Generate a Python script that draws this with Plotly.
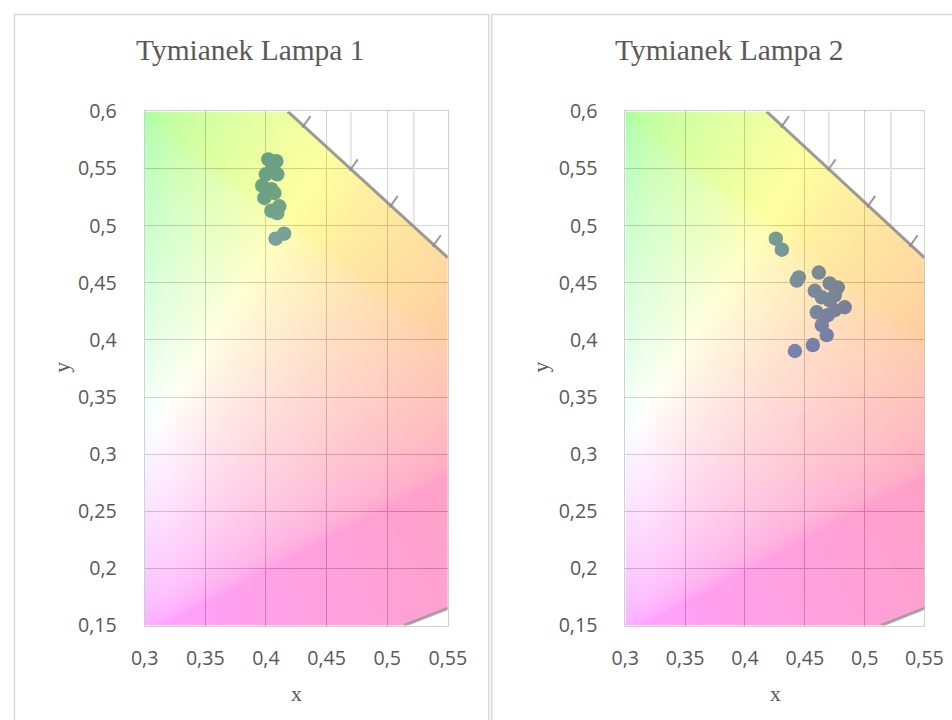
import base64
import struct
import zlib

import numpy as np
import plotly.graph_objects as go

# ---------------- data ----------------
lamp1_x = [0.402, 0.4086, 0.406, 0.4094, 0.400, 0.397, 0.4045, 0.407, 0.3987,
           0.411, 0.4094, 0.4045, 0.415, 0.408]
lamp1_y = [0.558, 0.5565, 0.552, 0.545, 0.545, 0.535, 0.532, 0.5286, 0.5243,
           0.517, 0.511, 0.513, 0.493, 0.4886]

lamp2_x = [0.4258, 0.4308, 0.445, 0.4433, 0.4617, 0.4583, 0.4708, 0.4775, 0.4642,
           0.475, 0.4833, 0.460, 0.4692, 0.4642, 0.4683, 0.4567, 0.4417, 0.4708, 0.475]
lamp2_y = [0.4886, 0.479, 0.4547, 0.452, 0.459, 0.443, 0.4494, 0.446, 0.4373,
           0.439, 0.4286, 0.4242, 0.4216, 0.4129, 0.4042, 0.3955, 0.3903, 0.4346, 0.426]

titles = ["Tymianek Lampa 1", "Tymianek Lampa 2"]
x_tickvals = [0.3, 0.35, 0.4, 0.45, 0.5, 0.55]
x_ticktext = ["0,3", "0,35", "0,4", "0,45", "0,5", "0,55"]
y_tickvals = [0.15, 0.2, 0.25, 0.3, 0.35, 0.4, 0.45, 0.5, 0.55, 0.6]
y_ticktext = ["0,15", "0,2", "0,25", "0,3", "0,35", "0,4", "0,45", "0,5", "0,55", "0,6"]

X_RANGE = [0.3, 0.55]
Y_RANGE = [0.15, 0.6]

# background chromaticity picture geometry
LOCUS_X = [0.418, 0.55]
LOCUS_Y = [0.6, 0.472]
PURPLE_X = [0.514, 0.55]
PURPLE_Y = [0.15, 0.165]
WL_TICK_X = [0.431, 0.470, 0.503, 0.5385]
PICTURE_GRID_X = [0.47, 0.522]


def locus_y(x):
    return LOCUS_Y[0] + (x - LOCUS_X[0]) * (LOCUS_Y[1] - LOCUS_Y[0]) / (LOCUS_X[1] - LOCUS_X[0])


def purple_y(x):
    return PURPLE_Y[0] + (x - PURPLE_X[0]) * (PURPLE_Y[1] - PURPLE_Y[0]) / (PURPLE_X[1] - PURPLE_X[0])


# ---------------- chromaticity background as PNG ----------------
def make_png(arr):
    h, w, _ = arr.shape
    raw = b"".join(b"\x00" + arr[i].tobytes() for i in range(h))

    def chunk(tag, data):
        c = struct.pack(">I", len(data)) + tag + data
        return c + struct.pack(">I", zlib.crc32(tag + data) & 0xFFFFFFFF)

    png = b"\x89PNG\r\n\x1a\n"
    png += chunk(b"IHDR", struct.pack(">IIBBBBB", w, h, 8, 2, 0, 0, 0))
    png += chunk(b"IDAT", zlib.compress(raw, 9))
    png += chunk(b"IEND", b"")
    return "data:image/png;base64," + base64.b64encode(png).decode()


NX, NY = 300, 540
xs = X_RANGE[0] + (np.arange(NX) + 0.5) * (X_RANGE[1] - X_RANGE[0]) / NX
ys = Y_RANGE[1] - (np.arange(NY) + 0.5) * (Y_RANGE[1] - Y_RANGE[0]) / NY
XX, YY = np.meshgrid(xs, ys)
Xc = XX / YY
Yc = np.ones_like(XX)
Zc = (1 - XX - YY) / YY
R = 3.2406 * Xc - 1.5372 * Yc - 0.4986 * Zc
G = -0.9689 * Xc + 1.8758 * Yc + 0.0415 * Zc
B = 0.0557 * Xc - 0.2040 * Yc + 1.0570 * Zc
rgb = np.clip(np.stack([R, G, B], axis=-1), 0, None)
rgb = rgb / rgb.max(axis=-1, keepdims=True)
rgb = np.where(rgb <= 0.0031308, 12.92 * rgb, 1.055 * np.power(rgb, 1 / 2.4) - 0.055)
outside = (YY > locus_y(XX)) | (YY < purple_y(XX))
rgb[outside] = 1.0
img = (np.clip(rgb, 0, 1) * 255).astype(np.uint8)
bg_src = make_png(img)

# ---------------- page geometry ----------------
W, H = 952, 720
# the photographed page is shown slightly reduced with a small border; map
# target picture positions to page positions
SHOT_SCALE, SHOT_OFF = 0.968, 12.0


def P(v):
    return (v - SHOT_OFF) / SHOT_SCALE


def F(s):
    return s / SHOT_SCALE


plot_left = [143, 625]
plot_right = [447, 925]
plot_top, plot_bottom = 110, 627
chart_centers = [249, 729]
xlabel_centers = [295, 776]
ylabel_x = [60, 540]

fig = go.Figure()
marker = dict(color="#2c6bd0", size=F(14), line=dict(width=0))
fig.add_trace(go.Scatter(x=lamp1_x, y=lamp1_y, mode="markers", marker=marker,
                         xaxis="x", yaxis="y", showlegend=False))
fig.add_trace(go.Scatter(x=lamp2_x, y=lamp2_y, mode="markers", marker=marker,
                         xaxis="x2", yaxis="y2", showlegend=False))

tickfont = dict(family="Open Sans", size=F(19), color="#595959")
axis_common = dict(showgrid=True, gridcolor="#bdbdbd", gridwidth=1, zeroline=False,
                   showline=True, mirror=True, linecolor="#d0d0d0", linewidth=1,
                   ticks="outside", tickcolor="rgba(0,0,0,0)", tickfont=tickfont,
                   fixedrange=True)

layout = dict(width=W, height=H, margin=dict(l=0, r=0, t=0, b=0), autosize=False,
              paper_bgcolor="white", plot_bgcolor="white", showlegend=False)
for i in range(2):
    sx = "" if i == 0 else str(i + 1)
    layout["xaxis" + sx] = dict(axis_common,
                                domain=[P(plot_left[i]) / W, P(plot_right[i]) / W],
                                range=X_RANGE, tickvals=x_tickvals, ticktext=x_ticktext,
                                anchor="y" + sx, ticklen=15)
    layout["yaxis" + sx] = dict(axis_common,
                                domain=[1 - P(plot_bottom) / H, 1 - P(plot_top) / H],
                                range=Y_RANGE, tickvals=y_tickvals, ticktext=y_ticktext,
                                anchor="x" + sx, ticklen=23, scaleanchor=False)
fig.update_layout(**layout)

images = []
shapes = []
annotations = []
grey = "#8a8a8a"
for i in range(2):
    sx = "" if i == 0 else str(i + 1)
    xr, yr = "x" + sx, "y" + sx
    images.append(dict(source=bg_src, xref=xr, yref=yr, x=X_RANGE[0], y=Y_RANGE[1],
                       sizex=X_RANGE[1] - X_RANGE[0], sizey=Y_RANGE[1] - Y_RANGE[0],
                       sizing="stretch", xanchor="left", yanchor="top",
                       opacity=0.37, layer="above"))
    for gx in PICTURE_GRID_X:
        shapes.append(dict(type="line", xref=xr, yref=yr, x0=gx, y0=locus_y(gx),
                           x1=gx, y1=Y_RANGE[1], line=dict(color="#e6e6e6", width=2),
                           layer="above"))
    shapes.append(dict(type="line", xref=xr, yref=yr, x0=LOCUS_X[0], y0=LOCUS_Y[0],
                       x1=LOCUS_X[1], y1=LOCUS_Y[1], line=dict(color=grey, width=3),
                       layer="above", opacity=0.85))
    for tx in WL_TICK_X:
        ty = locus_y(tx)
        shapes.append(dict(type="line", xref=xr, yref=yr, x0=tx - 0.001, y0=ty - 0.0015,
                           x1=tx + 0.0058, y1=ty + 0.0085, line=dict(color=grey, width=2),
                           layer="above", opacity=0.85))
    shapes.append(dict(type="line", xref=xr, yref=yr, x0=PURPLE_X[0], y0=PURPLE_Y[0],
                       x1=PURPLE_X[1], y1=PURPLE_Y[1], line=dict(color=grey, width=3),
                       layer="above", opacity=0.7))
    annotations.append(dict(text=titles[i], xref="paper", yref="paper",
                            x=P(chart_centers[i]) / W, y=1 - P(48) / H, xanchor="center",
                            yanchor="middle", showarrow=False,
                            font=dict(family="Liberation Serif", size=F(28.5), color="#595959")))
    annotations.append(dict(text="x", xref="paper", yref="paper",
                            x=P(xlabel_centers[i]) / W, y=1 - P(696) / H, xanchor="center",
                            yanchor="middle", showarrow=False,
                            font=dict(family="Liberation Serif", size=F(21), color="#595959")))
    annotations.append(dict(text="y", xref="paper", yref="paper",
                            x=P(ylabel_x[i]) / W, y=1 - P(367) / H, xanchor="center",
                            yanchor="middle", showarrow=False, textangle=-90,
                            font=dict(family="Liberation Serif", size=F(21), color="#595959")))

# chart-area borders
border_top = max(P(10), 0.5)
shapes.append(dict(type="rect", xref="paper", yref="paper", x0=max(P(9), 0.5) / W,
                   x1=P(488) / W, y0=-0.05, y1=1 - border_top / H,
                   line=dict(color="#d9d9d9", width=1.5),
                   fillcolor="rgba(0,0,0,0)", layer="below"))
shapes.append(dict(type="rect", xref="paper", yref="paper", x0=P(491) / W, x1=1.05,
                   y0=-0.05, y1=1 - border_top / H, line=dict(color="#d9d9d9", width=1.5),
                   fillcolor="rgba(0,0,0,0)", layer="below"))

fig.update_layout(images=images, shapes=shapes, annotations=annotations)
fig.write_html("out.html", config={"responsive": False, "displayModeBar": False})

with open("out.html", "r", encoding="utf-8") as f:
    html = f.read()
html = html.replace("<head>", "<head><style>html,body{margin:0;padding:0;overflow:hidden;}</style>", 1)
with open("out.html", "w", encoding="utf-8") as f:
    f.write(html)
